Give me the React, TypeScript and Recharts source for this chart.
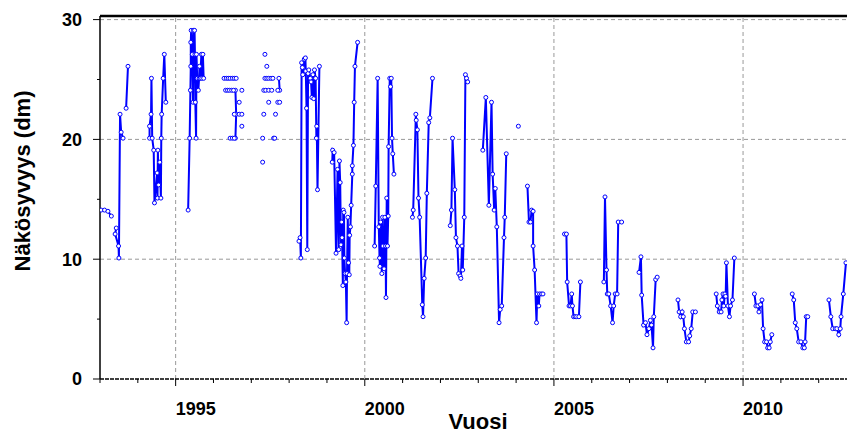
import { LineChart, Line, XAxis, YAxis, ReferenceLine, Customized } from "recharts";

const FONT = "'Liberation Sans', Arial, Helvetica, sans-serif";

// axis setup
const yearTicks = [1993, 1994, 1995, 1996, 1997, 1998, 1999, 2000, 2001, 2002, 2003, 2004, 2005, 2006, 2007, 2008, 2009, 2010, 2011, 2012];
const labelYears = [1995, 2000, 2005, 2010];
const valueTicks = [0, 5, 10, 15, 20, 25, 30];
const labelValues = [0, 10, 20, 30];
const gridYears = [1995, 2000, 2005, 2010];
const gridValues = [10, 20, 30];

// measured visibility (dm), [year, value]
const s1993a = [[1993.03, 14.1], [1993.12, 14.1], [1993.21, 14.0], [1993.3, 13.6]];
const s1993b = [[1993.43, 12.6], [1993.4, 12.1], [1993.49, 11.1], [1993.5, 10.1], [1993.53, 22.1], [1993.56, 20.6], [1993.61, 20.1]];
const s1993c = [[1993.69, 22.6], [1993.74, 26.1]];
const s1994 = [
  [1994.31, 20.1], [1994.31, 21.1], [1994.35, 22.1], [1994.36, 25.1], [1994.38, 20.1], [1994.42, 19.1],
  [1994.44, 14.7], [1994.51, 17.2], [1994.52, 15.1], [1994.53, 19.1], [1994.55, 16.2], [1994.58, 18.1],
  [1994.61, 15.1], [1994.62, 20.1], [1994.63, 22.1], [1994.67, 25.1], [1994.7, 27.1], [1994.74, 23.1],
];
const s1995 = [
  [1995.33, 14.1], [1995.37, 20.1], [1995.39, 24.1], [1995.4, 26.1], [1995.4, 28.1], [1995.41, 29.1],
  [1995.44, 27.1], [1995.46, 23.1], [1995.47, 29.1], [1995.5, 29.1], [1995.51, 27.1], [1995.52, 23.1],
  [1995.54, 20.1], [1995.55, 27.1], [1995.57, 25.1], [1995.6, 24.1], [1995.62, 25.1], [1995.63, 26.1],
  [1995.65, 25.1], [1995.68, 27.1], [1995.69, 25.1], [1995.72, 27.1], [1995.74, 25.1],
];
const dots1996 = [
  [1996.28, 25.1], [1996.34, 25.1], [1996.39, 25.1], [1996.44, 25.1], [1996.5, 25.1], [1996.55, 25.1], [1996.6, 25.1],
  [1996.32, 24.1], [1996.37, 24.1], [1996.42, 24.1], [1996.48, 24.1], [1996.53, 24.1], [1996.75, 24.1],
  [1996.68, 23.1], [1996.55, 22.1], [1996.68, 22.1], [1996.75, 22.1], [1996.75, 21.1],
  [1996.44, 20.1], [1996.5, 20.1], [1996.55, 20.1],
];
const s1996 = [[1996.58, 24.1], [1996.6, 22.1], [1996.58, 20.1]];
const dots1997 = [
  [1997.3, 20.1], [1997.3, 18.1], [1997.33, 22.1], [1997.36, 27.1], [1997.41, 26.1],
  [1997.36, 25.1], [1997.41, 25.1], [1997.46, 25.1], [1997.52, 25.1], [1997.57, 25.1],
  [1997.33, 24.1], [1997.38, 24.1], [1997.46, 24.1], [1997.54, 24.1], [1997.7, 24.1],
  [1997.46, 23.1], [1997.7, 23.1], [1997.75, 23.1], [1997.64, 22.1], [1997.59, 20.1], [1997.62, 20.1],
];
const s1997 = [[1997.73, 25.1], [1997.75, 24.1]];
const s1998 = [
  [1998.26, 11.5], [1998.29, 11.8], [1998.31, 10.1], [1998.33, 26.4], [1998.35, 26.0], [1998.36, 25.4],
  [1998.4, 26.7], [1998.43, 26.8], [1998.44, 25.7], [1998.46, 22.6], [1998.48, 10.8], [1998.5, 25.5],
  [1998.52, 25.8], [1998.56, 25.1], [1998.58, 24.8], [1998.6, 23.5], [1998.63, 25.4], [1998.65, 23.4],
  [1998.67, 25.8], [1998.7, 25.1], [1998.72, 20.1], [1998.73, 21.1], [1998.75, 15.8], [1998.8, 26.1],
];
const s1999 = [
  [1999.14, 18.1], [1999.15, 19.1], [1999.19, 18.9], [1999.24, 10.5], [1999.28, 17.5], [1999.31, 10.8],
  [1999.33, 18.2], [1999.35, 16.4], [1999.37, 11.2], [1999.39, 13.1], [1999.4, 11.8], [1999.42, 7.8],
  [1999.43, 14.1], [1999.45, 13.9], [1999.46, 10.1], [1999.48, 8.8], [1999.5, 8.1], [1999.52, 4.7],
  [1999.53, 8.8], [1999.55, 13.5], [1999.57, 9.7], [1999.59, 8.7], [1999.6, 12.0], [1999.62, 12.7],
  [1999.64, 14.5], [1999.67, 17.1], [1999.67, 17.8], [1999.7, 19.5], [1999.72, 23.1], [1999.74, 26.1],
  [1999.81, 28.1],
];
const s2000 = [
  [2000.26, 11.1], [2000.29, 16.1], [2000.34, 25.1], [2000.37, 12.7], [2000.39, 10.1], [2000.4, 9.4],
  [2000.42, 13.1], [2000.45, 8.8], [2000.47, 13.5], [2000.48, 11.1], [2000.51, 9.2], [2000.53, 13.5],
  [2000.55, 11.1], [2000.56, 6.8], [2000.58, 15.1], [2000.6, 11.1], [2000.62, 13.6], [2000.63, 19.4],
  [2000.66, 25.1], [2000.68, 24.4], [2000.7, 25.1], [2000.72, 20.1], [2000.74, 18.8], [2000.77, 17.1],
];
const s2001 = [
  [2001.26, 13.5], [2001.28, 14.1], [2001.35, 22.1], [2001.36, 21.6], [2001.39, 20.8], [2001.42, 15.1],
  [2001.45, 13.5], [2001.52, 6.2], [2001.54, 5.2], [2001.57, 8.4], [2001.61, 10.1], [2001.64, 15.5],
  [2001.69, 21.4], [2001.72, 21.8], [2001.79, 25.1],
];
const s2002 = [
  [2002.26, 12.8], [2002.29, 14.1], [2002.32, 20.1], [2002.38, 15.8], [2002.41, 11.8], [2002.45, 11.1],
  [2002.48, 8.8], [2002.52, 8.6], [2002.54, 8.4], [2002.57, 11.1], [2002.59, 9.1], [2002.63, 13.5],
  [2002.66, 25.4], [2002.69, 25.1], [2002.72, 24.8],
];
const s2003 = [
  [2003.12, 19.1], [2003.2, 23.5], [2003.28, 14.5], [2003.35, 23.1], [2003.38, 17.1], [2003.42, 14.1],
  [2003.45, 15.9], [2003.49, 12.7], [2003.55, 4.7], [2003.58, 5.8], [2003.62, 6.1], [2003.68, 11.8],
  [2003.7, 13.5], [2003.74, 18.8],
];
const dots2004 = [[2004.06, 21.1]];
const s2004 = [
  [2004.3, 16.1], [2004.34, 13.1], [2004.38, 13.1], [2004.41, 14.1], [2004.45, 14.0], [2004.45, 11.1],
  [2004.49, 9.1], [2004.54, 4.7], [2004.56, 7.1], [2004.6, 6.1], [2004.62, 7.1], [2004.67, 7.1], [2004.71, 7.1],
];
const s2005 = [
  [2005.28, 12.1], [2005.33, 12.1], [2005.35, 8.1], [2005.4, 6.1], [2005.44, 6.1], [2005.47, 7.1],
  [2005.49, 6.1], [2005.52, 5.2], [2005.56, 5.2], [2005.6, 5.2], [2005.66, 5.2], [2005.7, 8.1],
];
const s2006 = [
  [2006.32, 8.1], [2006.35, 15.2], [2006.39, 9.1], [2006.41, 7.1], [2006.45, 7.1], [2006.5, 6.1],
  [2006.55, 4.7], [2006.58, 6.1], [2006.62, 7.1], [2006.67, 7.1], [2006.7, 13.1], [2006.79, 13.1],
];
const s2007 = [
  [2007.25, 8.9], [2007.3, 10.2], [2007.32, 7.0], [2007.37, 4.5], [2007.42, 4.7], [2007.46, 3.7],
  [2007.51, 4.2], [2007.55, 4.9], [2007.58, 4.5], [2007.62, 2.6], [2007.64, 5.2], [2007.69, 8.3], [2007.73, 8.5],
];
const s2008 = [
  [2008.28, 6.6], [2008.31, 5.6], [2008.35, 5.2], [2008.39, 5.6], [2008.42, 5.2], [2008.45, 4.2],
  [2008.5, 3.1], [2008.56, 3.1], [2008.59, 3.6], [2008.63, 4.2], [2008.67, 5.6], [2008.74, 5.6],
];
const s2009 = [
  [2009.29, 7.1], [2009.32, 6.1], [2009.37, 5.6], [2009.42, 5.6], [2009.44, 6.6], [2009.47, 7.1],
  [2009.49, 6.1], [2009.52, 7.1], [2009.54, 6.9], [2009.56, 9.7], [2009.6, 6.1], [2009.64, 5.2],
  [2009.67, 6.1], [2009.72, 6.6], [2009.77, 10.1],
];
const s2010 = [
  [2010.3, 7.1], [2010.34, 6.1], [2010.39, 6.1], [2010.42, 5.6], [2010.46, 6.2], [2010.5, 6.6],
  [2010.53, 4.2], [2010.57, 3.1], [2010.62, 3.1], [2010.65, 2.6], [2010.69, 2.6], [2010.72, 3.1], [2010.76, 3.7],
];
const s2011 = [
  [2011.3, 7.1], [2011.34, 6.6], [2011.38, 4.7], [2011.42, 4.2], [2011.47, 3.1], [2011.53, 3.1],
  [2011.58, 2.6], [2011.62, 2.6], [2011.64, 3.1], [2011.67, 5.2], [2011.71, 5.2],
];
const s2012 = [
  [2012.27, 6.6], [2012.32, 5.2], [2012.37, 4.2], [2012.44, 4.2], [2012.48, 4.2], [2012.53, 3.7],
  [2012.57, 4.2], [2012.59, 5.2], [2012.65, 7.1], [2012.72, 9.7],
];

const segments = [
  s1993a, s1993b, s1993c, s1994, s1995, s1996, s1997, s1998, s1999, s2000, s2001,
  s2002, s2003, s2004, s2005, s2006, s2007, s2008, s2009, s2010, s2011, s2012,
];
const singleDots = [...dots1996, ...dots1997, ...dots2004];

// null rows break the line between field seasons
const data: { x: number; y: number | null }[] = [];
segments.forEach((seg) => {
  seg.forEach(([x, y]) => data.push({ x, y }));
  data.push({ x: seg[seg.length - 1][0], y: null });
});
singleDots.forEach(([x, y]) => {
  data.push({ x, y });
  data.push({ x, y: null });
});

function YearTick({ x, y, payload }: any) {
  const major = labelYears.includes(payload.value);
  return (
    <g>
      <line x1={x} x2={x} y1={y - 4} y2={y - 4 + (major ? 7 : 4)} stroke="#000" strokeWidth={1} />
      {major && (
        <text x={x} y={y + 32} textAnchor="start" fontFamily={FONT} fontWeight="bold" fontSize={18} fill="#000">
          {payload.value}
        </text>
      )}
    </g>
  );
}

function ValueTick({ x, y, payload }: any) {
  const major = labelValues.includes(payload.value);
  const axisX = x + 17;
  return (
    <g>
      <line x1={axisX - (major ? 7 : 3)} x2={axisX} y1={y} y2={y} stroke="#000" strokeWidth={1} />
      {major && (
        <text x={x - 1} y={y} dy="0.36em" textAnchor="end" fontFamily={FONT} fontWeight="bold" fontSize={18} fill="#000">
          {payload.value}
        </text>
      )}
    </g>
  );
}

function AxisTitles() {
  return (
    <g fontFamily={FONT} fontWeight="bold" fill="#000">
      <text x={478} y={429} textAnchor="middle" fontSize={22}>
        Vuosi
      </text>
      <text x={30} y={181} textAnchor="middle" fontSize={22} transform="rotate(-90, 30, 181)">
        Näkösyvyys (dm)
      </text>
    </g>
  );
}

export default function App() {
  return (
    <div style={{ position: "absolute", left: 0, top: 0, width: 847, height: 434, overflow: "hidden", background: "#fff" }}>
      <LineChart width={852} height={434} data={data} margin={{ top: 16, right: 0, bottom: 0, left: 0 }}>
        <XAxis
          type="number"
          dataKey="x"
          domain={[1993, 2012.88]}
          ticks={yearTicks}
          allowDataOverflow
          height={55}
          tickSize={4}
          tickMargin={0}
          tickLine={false}
          tick={<YearTick />}
          axisLine={{ stroke: "#000", strokeWidth: 1.5, strokeDasharray: "4 1" }}
          interval={0}
        />
        <YAxis
          type="number"
          domain={[0, 30.3]}
          ticks={valueTicks}
          allowDataOverflow
          width={100}
          tickSize={7}
          tickMargin={10}
          tickLine={false}
          tick={<ValueTick />}
          axisLine={{ stroke: "#000", strokeWidth: 1.5 }}
          interval={0}
        />
        {gridYears.map((v) => (
          <ReferenceLine key={"gx" + v} x={v} stroke="#999" strokeDasharray="4 3" strokeWidth={1} />
        ))}
        {gridValues.map((v) => (
          <ReferenceLine key={"gy" + v} y={v} stroke="#999" strokeDasharray="4 3" strokeWidth={1} />
        ))}
        <ReferenceLine y={30.3} stroke="#000" strokeWidth={2.5} />
        <Line
          dataKey="y"
          stroke="#0000ff"
          strokeWidth={2}
          dot={{ r: 2, stroke: "#0000ff", strokeWidth: 1, fill: "#fff" }}
          activeDot={false}
          isAnimationActive={false}
          connectNulls={false}
        />
        <Customized component={AxisTitles} />
      </LineChart>
    </div>
  );
}
